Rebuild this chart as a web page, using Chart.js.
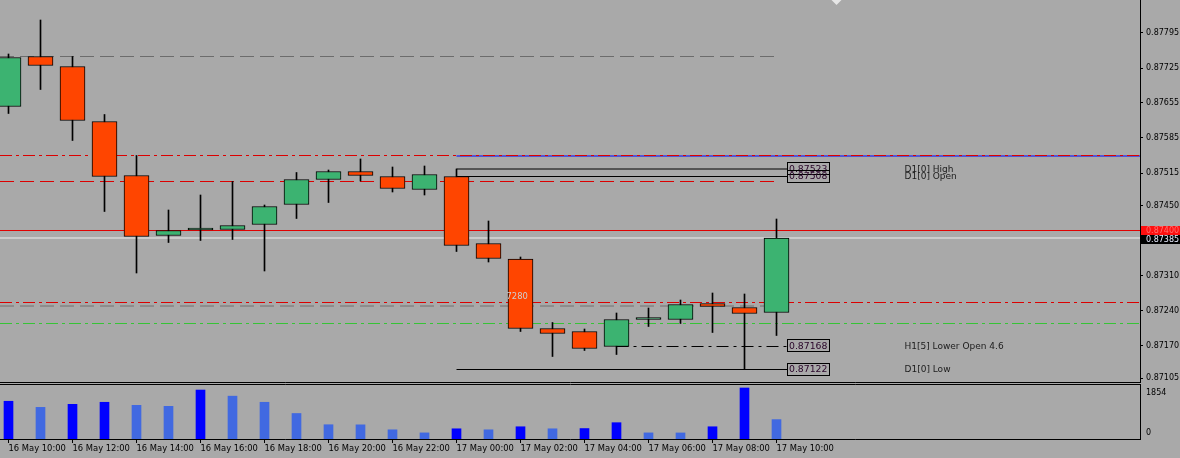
<!DOCTYPE html>
<html><head><meta charset="utf-8">
<script src="https://cdn.jsdelivr.net/npm/chart.js@4.4.0/dist/chart.umd.min.js"></script>
<style>
html,body{margin:0;padding:0;background:#a9a9a9;width:1180px;height:458px;overflow:hidden}
#main{position:absolute;left:0;top:0}
#vol{position:absolute;left:0;top:383px}
</style></head><body>
<canvas id="main" width="1180" height="383"></canvas>
<canvas id="vol" width="1180" height="75"></canvas>
<script>
// ---------- DATA ----------
const times = ['16 May 10:00','16 May 11:00','16 May 12:00','16 May 13:00','16 May 14:00','16 May 15:00',
  '16 May 16:00','16 May 17:00','16 May 18:00','16 May 19:00','16 May 20:00','16 May 21:00','16 May 22:00',
  '16 May 23:00','17 May 00:00','17 May 01:00','17 May 02:00','17 May 03:00','17 May 04:00','17 May 05:00',
  '17 May 06:00','17 May 07:00','17 May 08:00','17 May 09:00','17 May 10:00'];
const open  = [0.87648,0.87748,0.87728,0.87618,0.87510,0.87390,0.87401,0.87402,0.87412,0.87452,0.87502,0.87518,0.87508,
  0.87482,0.87508,0.87374,0.87343,0.87204,0.87198,0.87168,0.87222,0.87222,0.87254,0.87246,0.87236];
const high  = [0.87753,0.87821,0.87748,0.87632,0.87550,0.87441,0.87471,0.87498,0.87451,0.87516,0.87521,0.87543,0.87527,
  0.87529,0.87523,0.87419,0.87347,0.87216,0.87203,0.87235,0.87245,0.87261,0.87275,0.87273,0.87423];
const low   = [0.87634,0.87682,0.87580,0.87438,0.87315,0.87376,0.87380,0.87382,0.87319,0.87424,0.87456,0.87499,0.87477,
  0.87471,0.87358,0.87337,0.87198,0.87148,0.87160,0.87152,0.87208,0.87214,0.87196,0.87122,0.87190];
const close = [0.87746,0.87730,0.87620,0.87508,0.87388,0.87400,0.87402,0.87410,0.87448,0.87502,0.87518,0.87510,0.87484,
  0.87512,0.87370,0.87344,0.87204,0.87194,0.87164,0.87222,0.87223,0.87252,0.87248,0.87234,0.87385];
const volume = [1372,1150,1261,1335,1224,1187,1780,1557,1335,927,519,515,334,222,371,334,445,371,380,593,222,220,445,1854,705];

const priceTicks = [0.87795,0.87725,0.87655,0.87585,0.87515,0.87450,0.87310,0.87240,0.87170,0.87105];
const askPrice = 0.87400;
const bidPrice = 0.87385;
const d1High = 0.87523, d1Open = 0.87508, d1Low = 0.87122, h1LowerOpen5 = 0.87168;
const levelPrices  = [0.87748, 0.87550, 0.87549, 0.87498, d1High, d1Open, askPrice, bidPrice, 0.87256, 0.87249, 0.87214, h1LowerOpen5, d1Low];
const levelFromBar = [null,    null,    14,      null,    14,     14,     null,     null,     null,    null,    null,    19,           14];
const markerNames  = ['D1[0] High','D1[0] Open','H1[5] Lower Open 4.6','D1[0] Low'];
const markerPrices = [d1High, d1Open, h1LowerOpen5, d1Low];
const hiddenLabelText = '7280';
const hiddenLabelPrice = 0.87267;

// ---------- STYLE / LAYOUT ----------
const GREEN = '#3cb371', RED = '#ff4500';
const X_MIN = -8.5/32, X_MAX = (1140-8.5)/32;
const lastBar = times.length - 1;
const BOX_END = lastBar + 10.5/32;
const FONT = 'DejaVu Sans';
// per level: [color, dash, endMode]  endMode: 'edge' | 'bar' | 'box'
const levelStyles = [
  ['#6c6c6c',[14,6],'bar'],
  ['#dc0000',[12,4,3,4],'edge'],
  ['#0000ff',[],'edge'],
  ['#dc0000',[14,6],'bar'],
  ['#000000',[],'box'],
  ['#000000',[],'box'],
  ['#e00000',[],'edge'],
  ['#eeeeee',[],'edge'],
  ['#dc0000',[12,4,3,4],'edge'],
  ['#707070',[14,6],'bar'],
  ['#36c436',[12,4,3,4],'edge'],
  ['#000000',[12,5,3,5],'box'],
  ['#000000',[],'box']
];
Chart.defaults.font.family = FONT;
Chart.defaults.color = '#000';

function zeroPad(s){ s.paddingLeft=0; s.paddingRight=0; s.paddingTop=0; s.paddingBottom=0; }
function barTicks(s){ s.ticks = times.map((t,i)=>({value:i})); }

const levelDatasets = levelPrices.map((p, i) => {
  const st = levelStyles[i];
  const x0 = levelFromBar[i] === null ? X_MIN : levelFromBar[i];
  const x1 = st[2] === 'edge' ? X_MAX : (st[2] === 'bar' ? lastBar : BOX_END);
  return {type:'line', data:[{x:x0,y:p},{x:x1,y:p}], borderColor:st[0], borderWidth:1,
    borderDash:st[1], pointRadius:0, fill:false, order:10, tension:0};
});

const mainPlugin = {
  id:'mainDeco',
  afterDatasetsDraw(chart){
    const ctx = chart.ctx, xs = chart.scales.x, ys = chart.scales.y;
    const boxL = Math.round(xs.getPixelForValue(lastBar)) + 10.5;
    ctx.save();
    ctx.font = '8.4px "' + FONT + '"';
    ctx.fillStyle = '#cfcfcf';
    ctx.textBaseline = 'middle';
    ctx.textAlign = 'left';
    ctx.fillText(hiddenLabelText, xs.getPixelForValue(16) - 14, ys.getPixelForValue(hiddenLabelPrice));
    ctx.font = '9.3px "' + FONT + '"';
    markerPrices.forEach((p) => {
      const y = ys.getPixelForValue(p);
      ctx.strokeStyle = '#000'; ctx.lineWidth = 1;
      ctx.strokeRect(boxL, Math.round(y) - 6.5, 42, 12);
      ctx.fillStyle = '#2a062a';
      ctx.fillText(p.toFixed(5), boxL + 1.5, y + 0.5);
    });
    ctx.font = '9px "' + FONT + '"';
    ctx.fillStyle = '#1c1c1c';
    markerPrices.forEach((p, i) => {
      ctx.fillText(markerNames[i], boxL + 117, ys.getPixelForValue(p) + 0.5);
    });
    ctx.restore();
  },
  afterDraw(chart){
    const ctx = chart.ctx, ys = chart.scales.y, ca = chart.chartArea;
    ctx.save();
    ctx.strokeStyle = '#000'; ctx.lineWidth = 1;
    ctx.beginPath(); ctx.moveTo(0, ca.bottom - 0.5); ctx.lineTo(ca.right + 1, ca.bottom - 0.5); ctx.stroke();
    ctx.font = '8px "' + FONT + '"';
    ctx.textBaseline = 'middle'; ctx.textAlign = 'left';
    const ya = Math.round(ys.getPixelForValue(askPrice));
    ctx.fillStyle = '#ff1010'; ctx.fillRect(ca.right + 1, ya - 5, 39, 10);
    ctx.fillStyle = '#ff7070'; ctx.fillText(askPrice.toFixed(5), ca.right + 6, ya);
    const yb = Math.round(ys.getPixelForValue(bidPrice)) + 1;
    ctx.fillStyle = '#000'; ctx.fillRect(ca.right + 1, yb - 4, 39, 9);
    ctx.fillStyle = '#e8ecff'; ctx.fillText(bidPrice.toFixed(5), ca.right + 6, yb + 0.5);
    ctx.fillStyle = '#e6e6e6';
    ctx.beginPath(); ctx.moveTo(831.5, 0); ctx.lineTo(841.5, 0); ctx.lineTo(836.5, 5); ctx.closePath(); ctx.fill();
    ctx.restore();
  }
};

new Chart(document.getElementById('main'), {
  type:'bar',
  data:{
    datasets:[
      {type:'bar', data: times.map((t,i)=>({x:i, y:[low[i], high[i]]})), backgroundColor:'#000',
        borderWidth:0, stack:'candle', barThickness:1, order:2},
      {type:'bar', data: times.map((t,i)=>({x:i, y:[open[i], close[i]]})),
        backgroundColor: c => close[c.dataIndex] > open[c.dataIndex] ? GREEN : RED,
        borderColor:'#000', borderWidth:1, borderSkipped:false, minBarLength:2,
        stack:'candle', barThickness:25, order:1},
      ...levelDatasets
    ]
  },
  options:{
    responsive:false, animation:false, devicePixelRatio:1,
    layout:{padding:0},
    plugins:{legend:{display:false}, tooltip:{enabled:false}},
    scales:{
      x:{type:'linear', min:X_MIN, max:X_MAX, display:false, bounds:'data', offset:false, grid:{offset:false},
        afterBuildTicks: barTicks},
      y:{type:'linear', position:'right', min:0.87095, max:0.87861, bounds:'data', stacked:false,
        grid:{display:true, drawOnChartArea:false, drawTicks:true, tickLength:3, color:'#000'},
        border:{display:true, color:'#000', width:1},
        ticks:{font:{family:FONT, size:8}, color:'#000', padding:3, autoSkip:false, callback:v=>Number(v).toFixed(5)},
        afterBuildTicks: s => { s.ticks = priceTicks.map(v=>({value:v})); },
        afterFit: s => { s.width = 40; zeroPad(s); }
      }
    }
  },
  plugins:[mainPlugin]
});

const maxVol = Math.max(...volume);
const volPlugin = {
  id:'volDeco',
  afterDraw(chart){
    const ctx = chart.ctx, ys = chart.scales.y, ca = chart.chartArea;
    ctx.save();
    ctx.strokeStyle = '#000'; ctx.lineWidth = 1;
    ctx.beginPath(); ctx.moveTo(0, ca.top - 0.5); ctx.lineTo(ca.right + 1, ca.top - 0.5); ctx.stroke();
    ctx.font = '8px "' + FONT + '"'; ctx.fillStyle = '#000';
    ctx.textBaseline = 'middle'; ctx.textAlign = 'left';
    ctx.fillText(String(maxVol), ca.right + 6, ys.getPixelForValue(maxVol) + 4.5);
    ctx.fillText('0', ca.right + 6, ys.getPixelForValue(0) - 6.5);
    ctx.restore();
  }
};

new Chart(document.getElementById('vol'), {
  type:'bar',
  data:{
    datasets:[{data: volume.map((v,i)=>({x:i, y:v})),
      backgroundColor: c => (c.dataIndex === 0 || volume[c.dataIndex] > volume[c.dataIndex-1]) ? '#0000ff' : '#4169e1',
      borderWidth:0, barThickness:9}]
  },
  options:{
    responsive:false, animation:false, devicePixelRatio:1,
    layout:{padding:{top:2, left:0, right:0, bottom:0}},
    plugins:{legend:{display:false}, tooltip:{enabled:false}},
    scales:{
      x:{type:'linear', min:X_MIN, max:X_MAX, bounds:'data', position:'bottom', offset:false,
        grid:{display:true, offset:false, drawOnChartArea:false, drawTicks:true, tickLength:4, color:'#000'},
        border:{display:true, color:'#000', width:1},
        ticks:{font:{family:FONT, size:8.4}, color:'#000', align:'start', padding:1, autoSkip:false, maxRotation:0, minRotation:0,
          callback: v => times[v] || ''},
        afterBuildTicks: s => { const t=[]; for (let i=0;i<times.length;i+=2) t.push({value:i}); s.ticks=t; },
        afterFit: s => { s.height = 19; zeroPad(s); }
      },
      y:{type:'linear', position:'right', min:0, max:1963, bounds:'data',
        grid:{display:false}, border:{display:true, color:'#000', width:1},
        ticks:{display:false},
        afterFit: s => { s.width = 40; zeroPad(s); }
      }
    }
  },
  plugins:[volPlugin]
});
</script>
</body></html>
